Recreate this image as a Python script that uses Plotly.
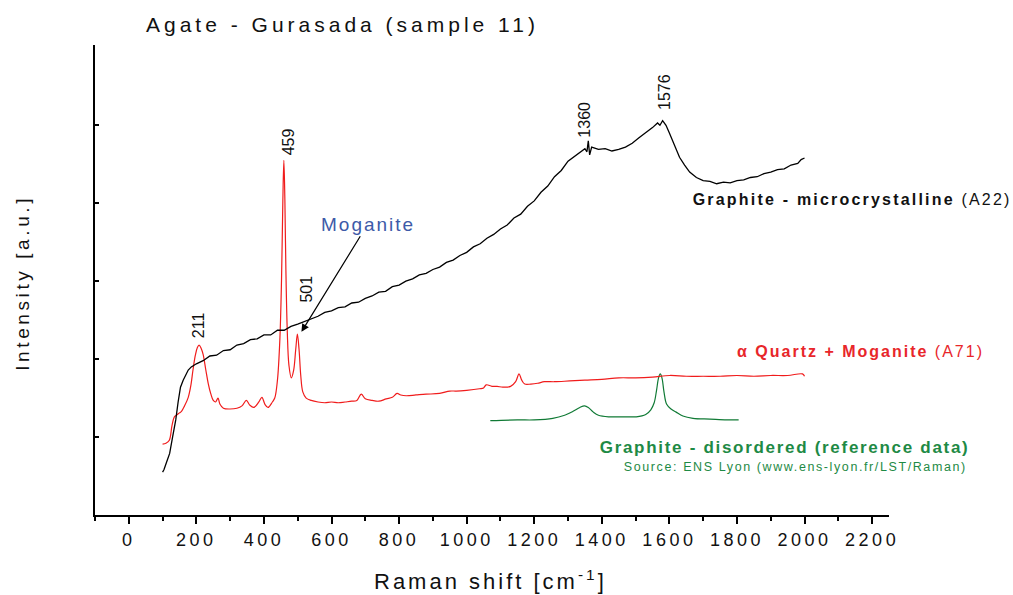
import plotly.graph_objects as go

# Raman spectra of agate (Gurasada, sample 11) and graphite reference
black_x = [100, 104, 112, 121, 130, 139, 146, 153, 161, 168, 176, 185, 200, 220, 240, 260, 280, 300,
           320, 340, 360, 380, 400, 420, 440, 460, 480, 500, 520, 540, 560, 580, 600, 620, 640, 660,
           680, 700, 720, 740, 760, 780, 800, 820, 840, 860, 880, 900, 920, 940, 960, 980, 1000, 1020,
           1040, 1060, 1080, 1100, 1120, 1140, 1160, 1180, 1200, 1220, 1240, 1260, 1280, 1300, 1320,
           1340, 1350, 1356, 1360, 1364, 1370, 1390, 1410, 1430, 1450, 1470, 1490, 1510, 1530, 1550,
           1565, 1572, 1580, 1590, 1600, 1615, 1630, 1645, 1660, 1680, 1700, 1720, 1740, 1760, 1780,
           1800, 1820, 1840, 1860, 1880, 1900, 1920, 1940, 1960, 1980, 1990, 2000]
black_y = [0.55, 0.58, 0.68, 0.79, 1.01, 1.22, 1.45, 1.64, 1.73, 1.79, 1.86, 1.90, 1.94, 1.98, 2.04,
           2.05, 2.11, 2.12, 2.18, 2.20, 2.25, 2.26, 2.31, 2.31, 2.37, 2.37, 2.42, 2.45, 2.48, 2.52,
           2.55, 2.60, 2.62, 2.66, 2.67, 2.72, 2.73, 2.78, 2.81, 2.86, 2.87, 2.93, 2.95, 3.00, 3.03,
           3.08, 3.10, 3.15, 3.18, 3.24, 3.27, 3.33, 3.37, 3.44, 3.48, 3.55, 3.60, 3.67, 3.72, 3.81,
           3.86, 3.96, 4.03, 4.14, 4.22, 4.34, 4.42, 4.54, 4.60, 4.66, 4.70, 4.66, 4.80, 4.62, 4.72,
           4.69, 4.70, 4.67, 4.69, 4.72, 4.77, 4.84, 4.90, 4.97, 5.03, 5.00, 5.06, 5.00, 4.90, 4.74,
           4.59, 4.49, 4.40, 4.33, 4.29, 4.28, 4.25, 4.27, 4.26, 4.29, 4.30, 4.33, 4.34, 4.38, 4.40,
           4.43, 4.44, 4.49, 4.51, 4.56, 4.58]

red_x = [100, 110, 120, 128, 135, 141, 150, 156, 165, 176, 184, 190, 197, 203, 208, 214, 220, 228,
         235, 243, 250, 257, 264, 270, 280, 299, 320, 335, 348, 358, 370, 385, 394, 403, 412, 425,
         432, 440, 447, 452, 456, 459, 462, 465, 469, 474, 481, 488, 494, 499, 504, 509, 515, 525,
         540, 560, 580, 600, 620, 640, 660, 675, 688, 700, 720, 740, 762, 780, 794, 805, 821, 850,
         880, 920, 950, 969, 1000, 1038, 1050, 1058, 1075, 1090, 1107, 1130, 1145, 1155, 1163, 1172,
         1190, 1210, 1230, 1260, 1305, 1350, 1400, 1450, 1500, 1550, 1601, 1650, 1700, 1750, 1800,
         1850, 1900, 1950, 1994, 2000]
red_y = [0.91, 0.92, 0.96, 1.15, 1.26, 1.28, 1.31, 1.33, 1.40, 1.51, 1.67, 1.86, 2.05, 2.15, 2.18,
         2.14, 2.06, 1.86, 1.69, 1.55, 1.47, 1.45, 1.50, 1.42, 1.37, 1.36, 1.37, 1.40, 1.47, 1.41,
         1.38, 1.45, 1.51, 1.42, 1.38, 1.45, 1.50, 1.73, 2.24, 3.01, 4.04, 4.55, 4.04, 3.14, 2.37,
         1.92, 1.76, 1.86, 2.12, 2.32, 2.12, 1.79, 1.58, 1.50, 1.47, 1.45, 1.44, 1.45, 1.44, 1.45,
         1.46, 1.47, 1.55, 1.49, 1.47, 1.46, 1.49, 1.51, 1.56, 1.54, 1.53, 1.54, 1.55, 1.56, 1.59,
         1.59, 1.60, 1.62, 1.63, 1.67, 1.65, 1.65, 1.64, 1.65, 1.71, 1.81, 1.73, 1.68, 1.68, 1.69,
         1.71, 1.71, 1.72, 1.73, 1.74, 1.76, 1.76, 1.77, 1.79, 1.78, 1.78, 1.78, 1.79, 1.78, 1.79,
         1.79, 1.81, 1.78]

green_x = [1070, 1150, 1200, 1255, 1290, 1315, 1335, 1349, 1360, 1375, 1390, 1420, 1470, 1502, 1530,
           1545, 1555, 1562, 1568, 1573, 1578, 1584, 1592, 1605, 1620, 1640, 1670, 1720, 1770, 1805]
green_y = [1.21, 1.22, 1.22, 1.24, 1.28, 1.33, 1.38, 1.40, 1.38, 1.32, 1.28, 1.26, 1.26, 1.26, 1.29,
           1.35, 1.44, 1.60, 1.76, 1.81, 1.76, 1.58, 1.42, 1.36, 1.32, 1.27, 1.24, 1.23, 1.22, 1.22]

# peak labels: (text, x, y of label foot)
peak_labels = [("211", 207, 2.24), ("459", 473, 4.59), ("501", 526, 2.70),
               ("1360", 1349, 4.81), ("1576", 1584, 5.17)]

x_ticks = list(range(0, 2201, 200))
y_ticks = [1, 2, 3, 4, 5]

FONT = "Liberation Sans, Arial, Helvetica, sans-serif"
RED = "#f01c1c"
GREEN = "#107a35"

fig = go.Figure()
fig.add_trace(go.Scatter(x=green_x, y=green_y, mode="lines",
                         line=dict(color=GREEN, width=1.2), line_shape="spline"))
fig.add_trace(go.Scatter(x=red_x, y=red_y, mode="lines",
                         line=dict(color=RED, width=1.2), line_shape="spline"))
fig.add_trace(go.Scatter(x=black_x, y=black_y, mode="lines",
                         line=dict(color="black", width=1.3)))

annotations = []
for text, px, py in peak_labels:
    annotations.append(dict(x=px, y=py, xref="x", yref="y", text=text, textangle=-90,
                            showarrow=False, xanchor="center", yanchor="bottom",
                            font=dict(family=FONT, size=16, color="#111111")))

# Moganite label with its pointer to the 501 band
annotations.append(dict(x=511, y=2.35, ax=707, ay=3.73, xref="x", yref="y", axref="x", ayref="y",
                        text="Moganite", showarrow=True, arrowhead=2, arrowsize=1.3,
                        arrowwidth=1.2, arrowcolor="black",
                        font=dict(family=FONT, size=19, color="#3d5aa8")))


def paper_x(px):
    return (px - 95) / 794


def paper_y(py):
    return (515 - py) / 470


annotations += [
    dict(x=paper_x(342), y=paper_y(24), xref="paper", yref="paper", xanchor="center",
         yanchor="middle", text="Agate - Gurasada (sample 11)", showarrow=False,
         font=dict(family=FONT, size=21, color="#111111")),
    dict(x=paper_x(490), y=paper_y(580), xref="paper", yref="paper", xanchor="center",
         yanchor="middle", text="Raman shift [cm<sup>-1</sup>]", showarrow=False,
         font=dict(family=FONT, size=22, color="#111111")),
    dict(x=paper_x(22), y=paper_y(283), xref="paper", yref="paper", xanchor="center",
         yanchor="middle", text="Intensity [a.u.]", textangle=-90, showarrow=False,
         font=dict(family=FONT, size=19, color="#111111")),
    dict(x=paper_x(852), y=paper_y(199), xref="paper", yref="paper",
         xanchor="center", yanchor="middle",
         text="<b>Graphite - microcrystalline</b> (A22)", showarrow=False,
         font=dict(family=FONT, size=16, color="#111111")),
    dict(x=paper_x(860), y=paper_y(351), xref="paper", yref="paper",
         xanchor="center", yanchor="middle",
         text="<b>α Quartz + Moganite</b> (A71)", showarrow=False,
         font=dict(family=FONT, size=16, color="#e8262a")),
    dict(x=paper_x(784), y=paper_y(447), xref="paper", yref="paper",
         xanchor="center", yanchor="middle",
         text="<b>Graphite - disordered (reference data)</b>", showarrow=False,
         font=dict(family=FONT, size=17, color="#1e8a45")),
    dict(x=paper_x(795), y=paper_y(467), xref="paper", yref="paper",
         xanchor="center", yanchor="middle",
         text="Source: ENS Lyon (www.ens-lyon.fr/LST/Raman)", showarrow=False,
         font=dict(family=FONT, size=12.5, color="#1e8a45")),
]

fig.update_layout(
    width=1013, height=595,
    margin=dict(l=95, r=124, t=45, b=80),
    paper_bgcolor="white", plot_bgcolor="white",
    showlegend=False,
    annotations=annotations,
    xaxis=dict(range=[-100, 2250], tickvals=x_ticks, ticks="outside", ticklen=7, tickwidth=1.5,
               tickcolor="black", showline=True, linewidth=2, linecolor="black",
               showgrid=False, zeroline=False,
               minor=dict(dtick=100, tick0=0, ticks="outside", ticklen=4, tickwidth=1.5,
                          tickcolor="black"),
               tickfont=dict(family=FONT, size=18, color="#111111")),
    yaxis=dict(range=[0, 6.03], tickvals=y_ticks, ticks="inside", ticklen=4, tickwidth=1.5,
               tickcolor="black", showticklabels=False, showline=True, linewidth=2,
               linecolor="black", showgrid=False, zeroline=False),
)

# widened letter spacing for the chart's captions and tick numbers
spacing_js = """
var gd = document.getElementById('{plot_id}');
var spacing = [
  ['Agate - Gurasada', 4],
  ['Raman shift', 3],
  ['Intensity [a.u.]', 3.6],
  ['Moganite', 2],
  ['Graphite - microcrystalline', 2.2],
  ['Quartz + Moganite', 2.3],
  ['Graphite - disordered', 1.7],
  ['Source: ENS Lyon', 1.6]
];
function applySpacing() {
  gd.querySelectorAll('.annotation-text').forEach(function (t) {
    var txt = t.textContent;
    for (var i = 0; i < spacing.length; i++) {
      if (txt.indexOf(spacing[i][0]) !== -1) {
        t.style.letterSpacing = spacing[i][1] + 'px';
        break;
      }
    }
  });
  gd.querySelectorAll('.xtick text').forEach(function (t) {
    t.style.letterSpacing = '3.5px';
  });
}
applySpacing();
gd.on('plotly_afterplot', applySpacing);
"""

fig.write_html("out.html", post_script=spacing_js)
